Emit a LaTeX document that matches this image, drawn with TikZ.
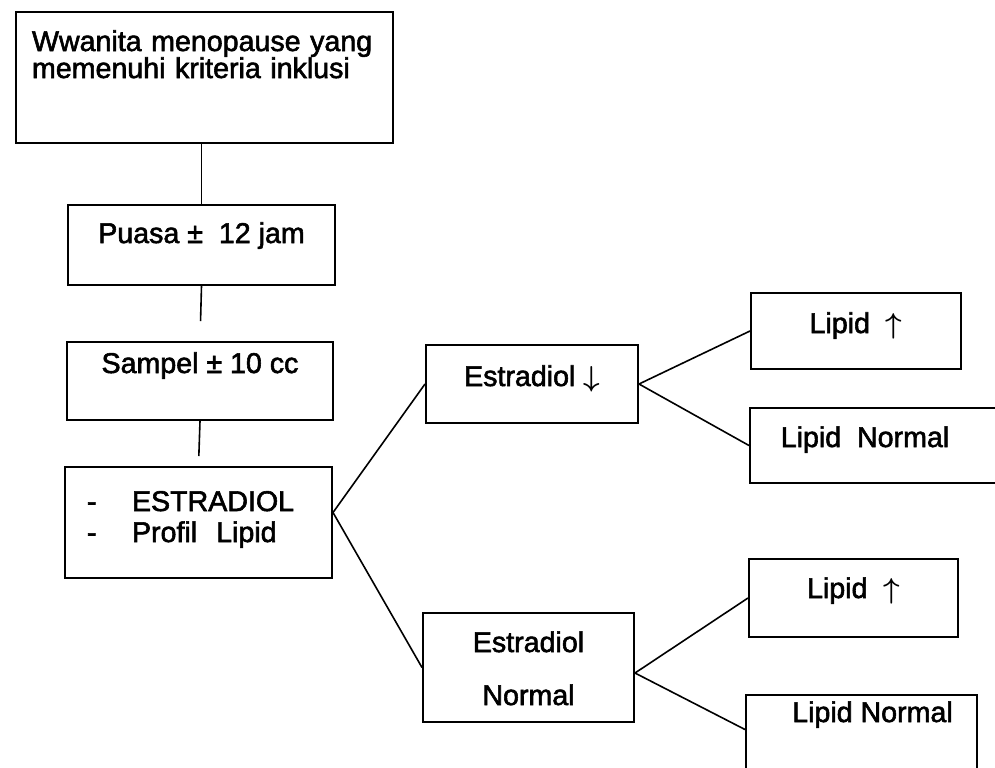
\documentclass[tikz,border=0pt]{standalone}
\usepackage{amsmath}
\usepackage{fontspec}
\setmainfont{Liberation Sans}[FakeBold=2]
\usetikzlibrary{positioning}

\begin{document}
\begin{tikzpicture}[x=0.5pt,y=-0.5pt,node font=\fontsize{14.3}{15.5}\selectfont]
	\tikzstyle{box}=[draw,rectangle,line width=1pt,inner ysep=2pt,text height=11pt,align=center]
	\tikzstyle{link}=[line width=0.8pt]
	\useasboundingbox (0,0) rectangle (995,767);

	\node[box,text width=172.5pt,inner xsep=8pt,align=left,minimum height=65.5pt,text depth=37.5pt,font=\fontsize{14.3}{13.5}\selectfont] (WMK) at (204.5,77.5) {Wwanita menopause yang\\memenuhi kriteria inklusi};
	\node[box,minimum width=133.5pt,minimum height=40pt,text depth=13pt] (PUASA) at (201.5,245) {Puasa ±\ \ 12 jam};
	\node[box,minimum width=133pt,minimum height=39pt,text depth=19pt] (SAMPEL) at (200,381) {Sampel ± 10 cc};
	\node[box,text width=111.5pt,inner xsep=11pt,align=left,minimum height=55.5pt,text depth=22.5pt] (PROFIL) at (198.5,522.5) {\makebox[22.5pt][l]{-}ESTRADIOL\\\makebox[22.5pt][l]{-}Profil\ \ Lipid};
	\node[box,minimum width=106pt,minimum height=39pt,text depth=9pt] (ESTR) at (532,384) {Estradiol $\boldsymbol{\downarrow}$};
	\node[box,text width=95.5pt,inner xsep=5pt,minimum height=54.5pt,text depth=26.5pt,font=\fontsize{14.3}{26.5}\selectfont] (ESTN) at (528.5,667.5) {Estradiol\hspace{5pt}\\Normal\hspace{5pt}};
	\node[box,minimum width=105pt,minimum height=38pt,text depth=9pt] (LUP1) at (856,331) {Lipid\ \ $\boldsymbol{\uparrow}$};
	\node[box,minimum width=127pt,minimum height=37.5pt,text depth=9.5pt] (LN1) at (877,445.5) {Lipid\ \ Normal\hspace{12pt}};
	\node[box,minimum width=104.5pt,minimum height=39pt,text depth=11pt] (LUP2) at (853.5,598) {Lipid\ \ $\boldsymbol{\uparrow}$};
	\node[box,minimum width=115.5pt,minimum height=42.5pt,text depth=26.5pt] (LN2) at (861.5,737.5) {\hspace{11pt}Lipid Normal};

	\path[link]
	(WMK.south -| PUASA.north) edge (PUASA.north)
	(PUASA.south) edge [shorten >=10pt] (SAMPEL.north)
	(SAMPEL.south) edge [shorten >=5pt] (PROFIL.north)
	([yshift=5pt]PROFIL.east) edge (ESTR.west)
	([yshift=5pt]PROFIL.east) edge (ESTN.west)
	(ESTR.east) edge (LUP1.west)
	(ESTR.east) edge (LN1.west)
	([yshift=-2.75pt]ESTN.east) edge (LUP2.west)
	([yshift=-2.75pt]ESTN.east) edge ([yshift=4pt]LN2.west);
\end{tikzpicture}
\end{document}
